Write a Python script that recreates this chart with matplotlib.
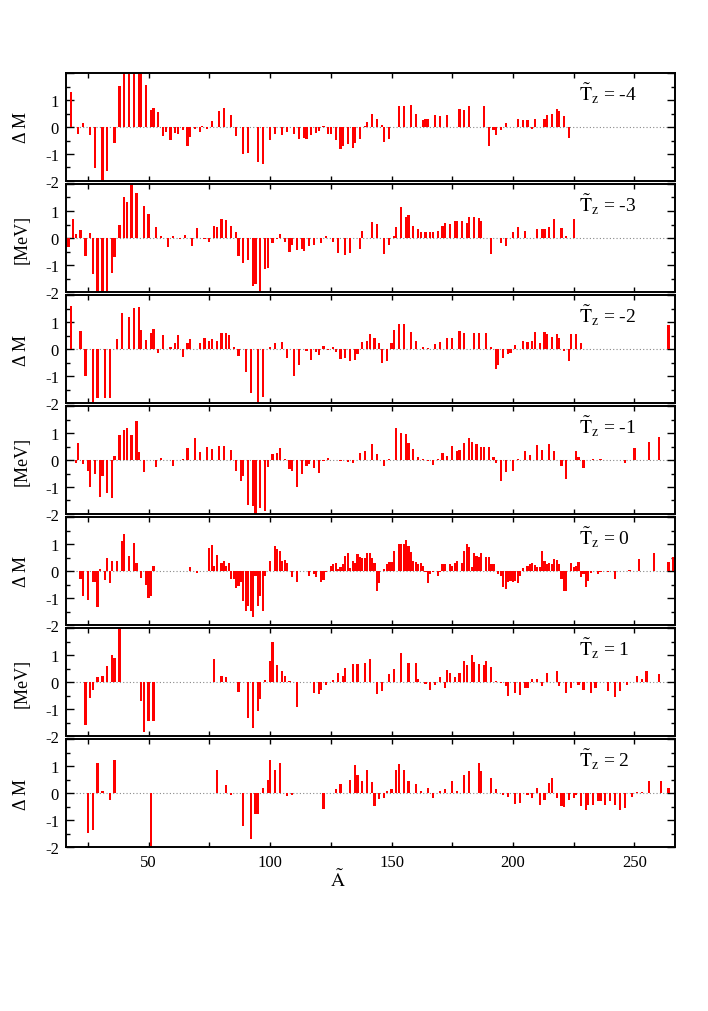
import matplotlib
matplotlib.use("Agg")
import matplotlib.pyplot as plt
from matplotlib.ticker import FixedLocator, FuncFormatter, MultipleLocator

plt.rcParams['font.family'] = ['Liberation Serif', 'DejaVu Serif']
plt.rcParams['mathtext.fontset'] = 'stix'
plt.rcParams['axes.unicode_minus'] = False

# ---------------- data (A, Delta M in MeV) ----------------
A_m4 = [18, 21, 23, 26, 28, 31, 33, 36, 38, 40, 42, 44, 46, 47, 49, 51, 52, 54, 56, 57, 59, 61, 62, 64, 66, 67, 69, 71, 72, 74,
        76, 79, 81, 84, 86, 89, 91, 95, 97, 100, 102, 105, 107, 110, 112, 114, 115, 117, 119, 120, 122, 124, 125, 127, 129, 130,
        132, 134, 135, 137, 139, 140, 142, 144, 146, 147, 149, 153, 155, 158, 160, 163, 164, 165, 168, 170, 173, 178, 180, 182,
        188, 190, 192, 193, 195, 197, 202, 204, 206, 208, 209, 213, 214, 216, 218, 219, 221, 223]
dM_m4 = [1.30, -0.25, 0.15, -0.31, -1.52, -2.2, -1.63, -0.58, 1.52, 2.3, 1.95, 2.3, 2.3, 2.3, 1.57, 0.64, 0.70, 0.54, -0.35, -0.20,
         -0.47, -0.21, -0.25, -0.12, -0.69, -0.37, -0.06, -0.20, 0.04, -0.09, 0.21, 0.59, 0.69, 0.43, -0.32, -1.01, -0.96, -1.30,
         -1.36, -0.49, -0.25, -0.28, -0.19, -0.25, -0.43, -0.40, -0.43, -0.31, -0.21, -0.15, 0.02, -0.25, -0.25, -0.49, -0.80,
         -0.69, -0.64, -0.78, -0.59, -0.43, 0.04, 0.19, 0.49, 0.31, 0.06, -0.56, -0.43, 0.77, 0.77, 0.80, 0.49, 0.25, 0.31, 0.31,
         0.46, 0.41, 0.46, 0.65, 0.62, 0.78, 0.79, -0.69, -0.12, -0.31, -0.12, 0.15, 0.28, 0.25, 0.25, -0.09, 0.28, 0.28, 0.43,
         0.49, 0.68, 0.59, 0.40, -0.40]

A_m3 = [17, 19, 20, 22, 24, 26, 27, 29, 31, 33, 35, 36, 38, 40, 41, 43, 45, 48, 50, 53, 55, 58, 60, 63, 65, 68, 70, 73, 75, 77,
        78, 80, 82, 84, 86, 87, 89, 91, 93, 94, 96, 98, 99, 101, 103, 104, 106, 108, 109, 111, 113, 114, 116, 118, 121, 123, 126,
        128, 131, 133, 137, 138, 142, 144, 147, 149, 151, 152, 154, 156, 157, 159, 161, 162, 164, 166, 167, 169, 171, 172, 174,
        176, 177, 179, 181, 182, 184, 186, 187, 191, 195, 197, 200, 202, 205, 210, 212, 213, 215, 217, 220, 222, 225]
dM_m3 = [-0.32, 0.69, 0.15, 0.30, -0.67, 0.20, -1.35, -2.2, -2.2, -2.2, -1.28, -0.70, 0.48, 1.51, 1.32, 1.96, 1.68, 1.19, 0.88,
         0.41, 0.07, -0.32, 0.09, -0.05, 0.11, -0.30, 0.36, -0.02, -0.14, 0.44, 0.41, 0.69, 0.65, 0.44, 0.21, -0.67, -0.94, -0.81,
         -1.77, -1.69, -2.2, -1.16, -1.10, -0.17, -0.04, 0.15, -0.14, -0.51, -0.26, -0.44, -0.42, -0.47, -0.28, -0.26, -0.17, 0.09,
         -0.14, -0.57, -0.63, -0.54, -0.41, 0.27, 0.60, 0.51, -0.59, -0.26, 0.07, 0.42, 1.14, 0.79, 0.85, 0.44, 0.32, 0.23, 0.23,
         0.23, 0.23, 0.26, 0.44, 0.54, 0.51, 0.63, 0.63, 0.64, 0.54, 0.77, 0.77, 0.75, 0.64, -0.60, -0.20, -0.30, 0.21, 0.40, 0.26,
         0.32, 0.33, 0.32, 0.42, 0.70, 0.36, 0.07, 0.69]

A_m2 = [18, 22, 24, 27, 29, 32, 34, 37, 39, 42, 44, 46, 47, 49, 51, 52, 54, 56, 59, 61, 62, 64, 66, 67, 69, 71, 73, 75, 76, 78,
        80, 82, 83, 85, 87, 90, 92, 95, 97, 100, 102, 105, 107, 110, 112, 115, 117, 119, 120, 122, 124, 126, 127, 129, 131, 133,
        135, 136, 138, 140, 141, 143, 145, 146, 148, 150, 151, 153, 155, 158, 160, 163, 165, 168, 170, 173, 175, 178, 180, 184,
        186, 189, 191, 193, 194, 196, 198, 199, 201, 204, 206, 208, 209, 211, 213, 214, 216, 218, 219, 221, 223, 224, 226, 228,
        264]
dM_m2 = [1.59, 0.65, -1.00, -2.2, -1.80, -1.80, -1.80, 0.36, 1.32, 1.20, 1.51, 1.57, 0.72, 0.32, 0.60, 0.75, -0.16, 0.51, 0.09,
         0.23, 0.51, -0.30, 0.23, 0.36, 0.01, 0.23, 0.40, 0.30, 0.37, 0.30, 0.60, 0.60, 0.51, 0.07, -0.26, -0.85, -1.62, -2.2,
         -1.77, 0.07, 0.21, 0.26, -0.32, -1.00, -0.58, -0.07, -0.42, -0.11, -0.21, 0.11, -0.04, 0.09, -0.11, -0.36, -0.32, -0.44,
         -0.41, -0.17, 0.27, 0.30, 0.54, 0.42, 0.21, -0.51, -0.44, 0.21, 0.69, 0.91, 0.91, 0.64, 0.30, 0.09, 0.04, 0.17, 0.27,
         0.42, 0.42, 0.67, 0.60, 0.58, 0.58, 0.58, 0.07, -0.75, -0.60, -0.32, -0.20, -0.14, 0.16, 0.30, 0.26, 0.30, 0.63, 0.21,
         0.64, 0.57, 0.44, 0.57, 0.40, -0.06, -0.44, 0.54, 0.54, 0.23, 0.88]

A_m1 = [20, 21, 23, 25, 26, 28, 30, 31, 33, 35, 36, 38, 40, 41, 43, 45, 46, 48, 53, 55, 60, 64, 66, 69, 71, 74, 76, 79, 81, 84,
        86, 88, 89, 91, 93, 94, 96, 98, 99, 101, 103, 104, 106, 108, 109, 111, 113, 115, 116, 118, 120, 122, 124, 129, 132, 134,
        137, 139, 142, 144, 147, 149, 152, 154, 156, 157, 159, 161, 163, 165, 167, 169, 171, 173, 175, 177, 178, 180, 182, 183,
        185, 187, 188, 190, 192, 193, 195, 197, 200, 202, 205, 207, 210, 212, 215, 217, 220, 222, 226, 227, 229, 233, 236, 246,
        250, 256, 260]
dM_m1 = [-0.12, 0.64, -0.15, -0.40, -1.01, -0.52, -1.38, -0.59, -1.21, -1.42, 0.16, 0.93, 1.11, 1.17, 0.93, 1.46, 0.28, -0.43,
         -0.25, 0.06, -0.22, 0.04, 0.43, 0.83, 0.31, 0.47, 0.40, 0.52, 0.52, 0.37, -0.41, -0.78, -0.59, -1.67, -1.70, -2.2, -1.79,
         -1.88, -0.25, 0.22, 0.25, 0.43, 0.04, -0.33, -0.40, -1.01, -0.53, -0.22, -0.16, -0.31, -0.47, -0.05, 0.06, -0.05, -0.06,
         -0.10, 0.27, 0.35, 0.59, 0.22, -0.22, 0.04, 1.17, 0.99, 0.95, 0.62, 0.40, 0.10, 0.04, -0.04, -0.19, 0.05, 0.25, 0.15,
         0.53, 0.33, 0.37, 0.64, 0.83, 0.68, 0.59, 0.49, 0.49, 0.49, 0.10, -0.12, -0.78, -0.43, -0.41, 0.04, 0.33, 0.19, 0.56,
         0.37, 0.59, 0.35, -0.21, -0.70, 0.33, 0.10, -0.28, 0.04, 0.02, -0.12, 0.43, 0.65, 0.86]

A_0 = [22, 23, 25, 27, 28, 29, 30, 32, 33, 34, 35, 37, 39, 40, 42, 44, 45, 47, 49, 50, 51, 52, 67, 70, 75, 76, 77, 78, 80, 81,
       82, 83, 84, 85, 86, 87, 88, 89, 90, 91, 92, 93, 94, 95, 96, 97, 98, 100, 102, 103, 104, 105, 106, 107, 109, 111, 116,
       118, 119, 121, 122, 123, 125, 126, 127, 128, 129, 130, 131, 132, 133, 134, 135, 136, 137, 138, 139, 140, 141, 142, 143,
       144, 145, 147, 148, 149, 150, 151, 153, 154, 155, 156, 157, 158, 159, 160, 161, 162, 163, 164, 165, 166, 167, 169, 170,
       171, 172, 174, 175, 176, 177, 179, 180, 181, 182, 183, 184, 185, 186, 187, 189, 190, 191, 192, 194, 195, 196, 197, 198,
       199, 200, 201, 202, 203, 204, 206, 207, 208, 209, 210, 211, 212, 213, 214, 215, 216, 217, 218, 219, 220, 221, 222, 224,
       225, 226, 227, 228, 229, 230, 231, 232, 235, 236, 239, 242, 248, 252, 258, 264, 266]
dM_0 = [-0.30, -0.91, -1.07, -0.40, -0.40, -1.32, 0.07, -0.32, 0.47, -0.46, 0.38, 0.38, 1.12, 1.37, 0.57, 1.04, 0.30, -0.26,
        -0.51, -1.00, -0.94, 0.17, 0.14, -0.06, 0.85, 0.96, 0.17, 0.60, 0.30, 0.36, 0.17, 0.28, -0.30, -0.30, -0.64, -0.54,
        -0.42, -1.12, -1.47, -1.28, -1.47, -1.69, -0.17, -1.28, -0.91, -1.49, -0.17, 0.36, 0.94, 0.81, 0.75, 0.36, 0.41, 0.30,
        -0.21, -0.42, -0.17, -0.11, -0.21, -0.42, -0.32, -0.05, 0.17, 0.26, 0.28, 0.07, 0.16, 0.26, 0.57, 0.67, 0.10, 0.36,
        0.30, 0.63, 0.51, 0.47, 0.47, 0.65, 0.67, 0.48, 0.28, -0.73, -0.45, 0.07, 0.26, 0.32, 0.32, 0.75, 1.00, 1.00, 1.00,
        1.15, 0.94, 0.69, 0.38, 0.32, 0.26, 0.28, 0.17, -0.05, -0.46, -0.11, -0.05, -0.20, -0.05, 0.26, 0.26, 0.26, 0.20, 0.30,
        0.38, 0.30, 0.75, 1.00, 0.90, 0.14, 0.65, 0.57, 0.51, 0.65, 0.51, 0.51, 0.26, 0.26, -0.11, -0.20, -0.60, -0.67, -0.42,
        -0.36, -0.40, -0.38, -0.46, -0.17, 0.11, 0.17, 0.26, 0.30, 0.22, 0.14, 0.16, 0.73, 0.38, 0.26, 0.28, 0.26, 0.44, 0.41,
        0.26, -0.30, -0.73, -0.73, 0.30, 0.14, 0.17, 0.35, -0.21, -0.11, -0.60, -0.36, -0.09, -0.11, -0.05, -0.05, -0.30, 0.05,
        0.44, 0.65, 0.35, 0.51]

A_p1 = [24, 26, 27, 29, 31, 33, 35, 36, 38, 47, 48, 50, 52, 77, 80, 82, 87, 91, 93, 95, 96, 98, 100, 101, 103, 105, 106, 108,
        111, 118, 120, 121, 123, 126, 128, 130, 131, 134, 136, 139, 141, 144, 146, 149, 151, 154, 157, 160, 161, 164, 166, 168,
        170, 172, 173, 174, 176, 178, 180, 181, 183, 184, 186, 188, 189, 191, 193, 195, 197, 198, 201, 203, 205, 206, 208, 210,
        212, 214, 218, 219, 222, 224, 227, 229, 232, 234, 239, 242, 244, 247, 251, 253, 255, 260]
dM_p1 = [-1.59, -0.59, -0.28, 0.18, 0.21, 0.60, 1.00, 0.88, 2.2, -0.71, -1.87, -1.44, -1.44, 0.84, 0.24, 0.18, -0.37, -1.34,
         -1.72, -1.07, -0.62, 0.06, 0.76, 1.49, 0.63, 0.39, 0.24, 0.02, -0.91, -0.40, -0.44, -0.28, -0.10, 0.09, 0.33, 0.24,
         0.51, 0.67, 0.67, 0.72, 0.85, -0.44, -0.34, 0.29, 0.48, 1.06, 0.72, 0.72, 0.12, -0.07, -0.30, -0.10, 0.18, -0.24, 0.45,
         0.33, 0.18, 0.35, 0.78, 0.63, 1.00, 0.73, 0.67, 0.63, 0.79, 0.57, 0.02, -0.04, -0.13, -0.52, -0.40, -0.49, -0.24,
         -0.24, 0.12, 0.12, -0.16, 0.33, 0.39, -0.16, -0.40, -0.22, -0.10, -0.28, -0.40, -0.22, -0.32, -0.56, -0.34, -0.10,
         0.21, 0.12, 0.39, 0.29]

A_p2 = [25, 27, 29, 31, 34, 36, 51, 78, 82, 84, 89, 92, 94, 95, 97, 99, 100, 102, 104, 107, 109, 122, 127, 129, 133, 135, 136,
        138, 140, 142, 143, 145, 147, 148, 150, 152, 153, 155, 157, 160, 162, 165, 167, 170, 172, 175, 177, 180, 182, 186, 187,
        191, 193, 196, 198, 201, 203, 206, 208, 210, 211, 213, 215, 216, 218, 220, 221, 223, 225, 226, 228, 230, 231, 233, 235,
        236, 238, 240, 242, 244, 246, 249, 251, 253, 256, 261, 264]
dM_p2 = [-1.49, -1.36, 1.11, 0.09, -0.27, 1.24, -2.2, 0.84, 0.30, -0.07, -1.22, -1.69, -0.78, -0.78, 0.20, 0.50, 1.24, 0.86,
         1.11, -0.11, -0.07, -0.58, 0.14, 0.32, 0.50, 1.04, 0.68, 0.46, 0.86, 0.39, -0.47, -0.24, -0.18, 0.09, 0.14, 0.86, 1.08,
         0.86, 0.46, 0.34, 0.09, 0.20, -0.18, 0.09, 0.16, 0.43, 0.09, 0.66, 0.81, 1.11, 0.81, 0.54, 0.16, -0.08, -0.15, -0.42,
         -0.38, -0.08, -0.18, 0.19, -0.45, -0.27, 0.36, 0.57, -0.18, -0.47, -0.51, -0.27, -0.20, -0.08, -0.49, -0.62, -0.45,
         -0.45, -0.31, -0.31, -0.45, -0.31, -0.45, -0.62, -0.55, -0.14, 0.05, 0.05, 0.43, 0.43, 0.20]

panel_A = [A_m4, A_m3, A_m2, A_m1, A_0, A_p1, A_p2]
panel_dM = [dM_m4, dM_m3, dM_m2, dM_m1, dM_0, dM_p1, dM_p2]
panel_Tz = ['-4', '-3', '-2', '-1', '0', '1', '2']
ylabels = ['Δ M', '[MeV]', 'Δ M', '[MeV]', 'Δ M', '[MeV]', 'Δ M']
xtick_vals = [50, 100, 150, 200, 250]
ytick_vals = [-2, -1, 0, 1, 2]

# ---------------- layout ----------------
W, H = 708, 1012
fig = plt.figure(figsize=(W / 100, H / 100), dpi=100)
left_px, right_px = 66, 674.5
top0, step, ph = 74, 111, 108

for k in range(7):
    top = top0 + step * k
    ax = fig.add_axes([left_px / W, 1 - (top + ph) / H, (right_px - left_px) / W, ph / H])
    ax.bar(panel_A[k], panel_dM[k], width=0.9, color='#ff0000', linewidth=0, zorder=2)
    ax.axhline(0, color='#888888', lw=0.8, ls=(0, (1, 2)), zorder=1)
    ax.set_xlim(16, 266.5)
    ax.set_ylim(-2, 2)
    ax.xaxis.set_major_locator(FixedLocator(xtick_vals))
    ax.xaxis.set_minor_locator(MultipleLocator(25))
    ax.yaxis.set_major_locator(FixedLocator(ytick_vals))
    ax.yaxis.set_minor_locator(MultipleLocator(0.5))
    ax.yaxis.set_major_formatter(FuncFormatter(lambda v, p: '' if v > 1.5 else '%d' % v))
    ax.tick_params(axis='both', which='both', direction='in', top=True, right=True,
                   labelsize=12, width=1.0, color='black')
    ax.tick_params(axis='x', which='both', length=3.5, pad=5)
    ax.tick_params(axis='y', which='major', length=6, pad=5)
    ax.tick_params(axis='y', which='minor', length=3)
    if k < 6:
        ax.tick_params(axis='x', labelbottom=False)
    for s in ax.spines.values():
        s.set_linewidth(1.4)
    ax.text(0.843, 0.82, r'$\tilde{\mathrm{T}}_{\mathrm{z}}$ = ' + panel_Tz[k], transform=ax.transAxes,
            fontsize=14, ha='left', va='center')
    fig.text(22 / W, 1 - (top + ph / 2) / H, ylabels[k], rotation=90, ha='center', va='center', fontsize=13)

fig.text(338 / W, 1 - 880 / H, r'$\tilde{\mathrm{A}}$', ha='center', va='center', fontsize=14)

fig.savefig('out.png', dpi=100)
